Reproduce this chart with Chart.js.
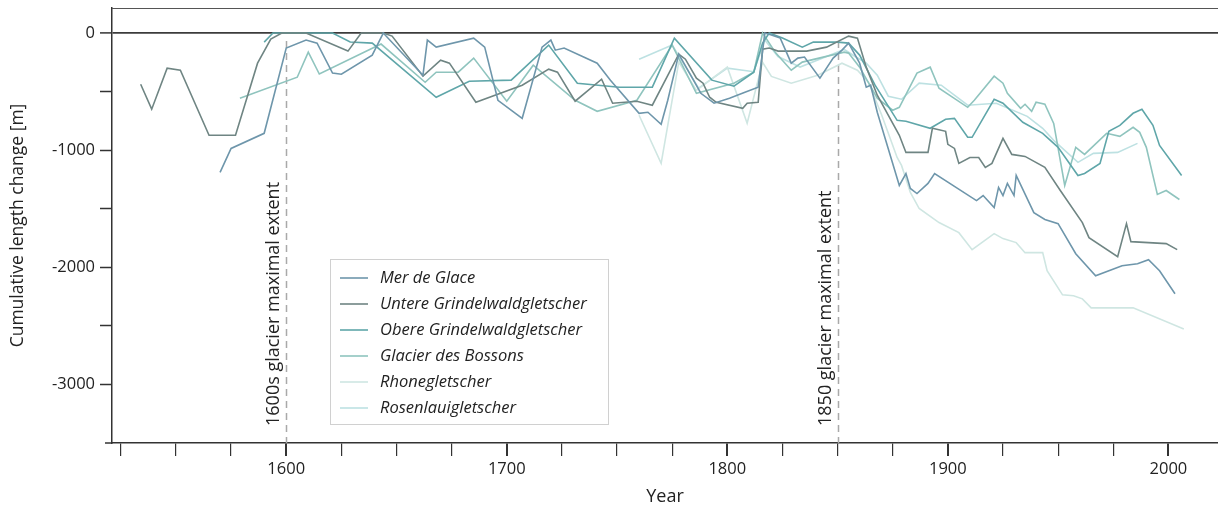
<!DOCTYPE html>
<html>
<head>
<meta charset="utf-8">
<script src="https://cdn.jsdelivr.net/npm/chart.js@4/dist/chart.umd.min.js"></script>
<style>
  body { margin: 0; background: #fff; }
  canvas { display: block; }
</style>
</head>
<body>
<canvas id="glacier-chart" width="1218" height="510"></canvas>
<script>
// Cumulative length change of Alpine glaciers, years and metres
var merYears = [1570, 1575, 1590, 1600, 1609, 1614, 1621, 1625, 1639, 1644, 1662, 1664, 1668, 1685, 1690, 1696, 1707, 1716, 1720, 1722, 1726, 1741, 1747, 1760, 1764, 1770, 1773, 1778, 1788, 1794, 1801, 1808, 1814, 1817, 1820, 1824, 1829, 1832, 1835, 1842, 1848, 1852, 1855, 1860, 1863, 1865, 1868, 1878, 1881, 1883, 1886, 1891, 1894, 1913, 1916, 1921, 1923, 1925, 1927, 1930, 1931, 1939, 1944, 1950, 1958, 1967, 1979, 1986, 1991, 1996, 2003]
var merChange = [-1190, -985, -856, -128, -60, -86, -342, -351, -188, 0, -360, -60, -120, -43, -120, -574, -728, -120, -60, -146, -128, -257, -402, -685, -676, -779, -574, -180, -514, -599, -556, -505, -462, 0, -17, -43, -257, -214, -205, -385, -214, -146, -86, -257, -462, -445, -676, -1301, -1199, -1327, -1370, -1284, -1199, -1430, -1387, -1490, -1318, -1387, -1284, -1387, -1216, -1533, -1592, -1627, -1884, -2072, -1986, -1969, -1935, -2029, -2226]

var untereYears = [1534, 1539, 1546, 1552, 1565, 1577, 1587, 1593, 1598, 1609, 1628, 1634, 1644, 1648, 1662, 1670, 1674, 1686, 1707, 1719, 1723, 1731, 1743, 1748, 1759, 1766, 1778, 1781, 1786, 1789, 1792, 1795, 1807, 1809, 1814, 1816, 1819, 1823, 1836, 1845, 1855, 1859, 1863, 1868, 1878, 1881, 1891, 1893, 1899, 1900, 1903, 1905, 1910, 1914, 1917, 1920, 1925, 1929, 1935, 1944, 1951, 1961, 1964, 1977, 1981, 1983, 1999, 2004]
var untereChange = [-437, -650, -300, -317, -873, -873, -257, -51, 0, 0, -154, 0, 0, -26, -368, -231, -257, -590, -445, -308, -334, -582, -394, -599, -582, -616, -180, -223, -385, -428, -548, -591, -642, -599, -591, -137, -128, -154, -154, -120, -26, -43, -291, -531, -873, -1019, -1019, -813, -839, -950, -985, -1113, -1062, -1062, -1147, -1113, -899, -1036, -1053, -1147, -1344, -1618, -1747, -1909, -1627, -1781, -1798, -1849]

var obereYears = [1590, 1594, 1621, 1629, 1639, 1668, 1683, 1702, 1719, 1732, 1751, 1766, 1776, 1793, 1803, 1812, 1816, 1819, 1825, 1834, 1839, 1850, 1855, 1860, 1867, 1877, 1881, 1892, 1899, 1903, 1909, 1911, 1921, 1925, 1934, 1943, 1950, 1959, 1962, 1969, 1973, 1978, 1984, 1988, 1993, 1996, 2006]
var obereChange = [-77, 0, 0, -77, -86, -548, -411, -402, -103, -428, -462, -462, -43, -402, -454, -334, -86, 0, -43, -120, -77, -77, -86, -188, -445, -745, -753, -813, -736, -728, -890, -890, -565, -599, -762, -856, -976, -1216, -1199, -1113, -839, -788, -685, -651, -788, -959, -1216]

var bossonsYears = [1579, 1605, 1610, 1615, 1643, 1663, 1668, 1678, 1685, 1700, 1712, 1731, 1741, 1759, 1775, 1786, 1803, 1812, 1816, 1822, 1829, 1834, 1853, 1855, 1860, 1868, 1875, 1878, 1886, 1892, 1896, 1909, 1912, 1921, 1925, 1927, 1933, 1935, 1938, 1940, 1944, 1948, 1953, 1958, 1962, 1972, 1978, 1984, 1987, 1990, 1995, 1999, 2005]
var bossonsChange = [-556, -377, -163, -350, -94, -420, -334, -334, -214, -582, -274, -574, -668, -574, -103, -514, -428, -334, 0, -171, -317, -248, -163, -171, -291, -556, -659, -634, -342, -291, -471, -634, -574, -368, -428, -514, -642, -608, -668, -591, -608, -771, -1301, -976, -1036, -856, -882, -805, -848, -976, -1378, -1344, -1421]

var rhoneYears = [1760, 1770, 1778, 1786, 1800, 1809, 1816, 1820, 1829, 1841, 1852, 1859, 1864, 1870, 1877, 1879, 1883, 1887, 1896, 1905, 1911, 1921, 1925, 1931, 1935, 1943, 1945, 1952, 1957, 1961, 1965, 1984, 2007]
var rhoneChange = [-702, -1113, -248, -490, -291, -770, -250, -370, -428, -360, -257, -317, -420, -700, -1062, -1130, -1361, -1498, -1618, -1704, -1849, -1712, -1755, -1789, -1875, -1875, -2029, -2235, -2243, -2269, -2346, -2346, -2526]

var rosenlauiYears = [1760, 1775, 1787, 1800, 1812, 1817, 1823, 1833, 1845, 1853, 1858, 1863, 1868, 1873, 1879, 1887, 1897, 1909, 1922, 1936, 1943, 1948, 1959, 1966, 1977, 1986]
var rosenlauiChange = [-223, -103, -470, -300, -330, -60, -200, -290, -200, -140, -200, -257, -360, -539, -565, -428, -445, -616, -599, -711, -813, -916, -1104, -1027, -1019, -942]

var glacierNames = ["Mer de Glace", "Untere Grindelwaldgletscher", "Obere Grindelwaldgletscher", "Glacier des Bossons", "Rhonegletscher", "Rosenlauigletscher"]
var glacierColors = ["#6e96ab", "#6f8583", "#5fa6a9", "#8fc4be", "#cfe6e2", "#bde1e2"]

var xTickValues = [1525, 1550, 1575, 1600, 1625, 1650, 1675, 1700, 1725, 1750, 1775, 1800, 1825, 1850, 1875, 1900, 1925, 1950, 1975, 2000]
var yTickValues = [-3000, -2500, -2000, -1500, -1000, -500, 0]

var markerYears = [1600, 1850]
var markerLabels = ["1600s glacier maximal extent", "1850 glacier maximal extent"]

var fontFamily = "'Open Sans', 'Segoe UI', sans-serif"
var textColor = "#222"

function toPoints(years, values) {
    return years.map(function (year, i) {
        return { x: year, y: values[i] }
    })
}

var seriesYears = [merYears, untereYears, obereYears, bossonsYears, rhoneYears, rosenlauiYears]
var seriesChange = [merChange, untereChange, obereChange, bossonsChange, rhoneChange, rosenlauiChange]

var datasets = glacierNames.map(function (name, i) {
    return {
        label: name,
        data: toPoints(seriesYears[i], seriesChange[i]),
        borderColor: glacierColors[i],
        borderWidth: 1.6,
        pointRadius: 0,
        tension: 0,
        fill: false
    }
})

// dashed lines for the two maximal extents, with rotated captions
var markerPlugin = {
    id: "markers",
    beforeDatasetsDraw: function (chart) {
        var ctx = chart.ctx
        var xs = chart.scales.x
        var ys = chart.scales.y
        var area = chart.chartArea
        ctx.save()
        markerYears.forEach(function (year, i) {
            var px = Math.round(xs.getPixelForValue(year)) + 0.5
            ctx.strokeStyle = "#a9a9a9"
            ctx.lineWidth = 1.5
            ctx.setLineDash([7, 5])
            ctx.beginPath()
            ctx.moveTo(px, ys.getPixelForValue(0) + 8)
            ctx.lineTo(px, area.bottom)
            ctx.stroke()
            ctx.setLineDash([])

            ctx.save()
            ctx.translate(px - 8, area.bottom - 17)
            ctx.rotate(-Math.PI / 2)
            ctx.fillStyle = textColor
            ctx.font = "18px " + fontFamily
            ctx.textAlign = "left"
            ctx.textBaseline = "alphabetic"
            ctx.fillText(markerLabels[i], 0, 0)
            ctx.restore()
        })
        ctx.restore()
    }
}

// spines and the boxed legend inside the plot
var framePlugin = {
    id: "frame",
    afterDraw: function (chart) {
        var ctx = chart.ctx
        var area = chart.chartArea
        ctx.save()
        ctx.strokeStyle = "#555"
        ctx.lineWidth = 1.2
        ctx.beginPath()
        ctx.moveTo(area.left, area.top + 0.5)
        ctx.lineTo(area.right, area.top + 0.5)
        ctx.stroke()

        ctx.strokeStyle = "#333"
        ctx.lineWidth = 1.5
        ctx.beginPath()
        ctx.moveTo(area.left - 7, area.bottom)
        ctx.lineTo(area.left, area.bottom)
        ctx.stroke()

        // legend
        var boxX = 330.5, boxY = 259.5, boxW = 278, boxH = 165
        ctx.fillStyle = "#fff"
        ctx.fillRect(boxX, boxY, boxW, boxH)
        ctx.strokeStyle = "#d0d0d0"
        ctx.lineWidth = 1
        ctx.strokeRect(boxX, boxY, boxW, boxH)
        ctx.font = "italic 16.5px " + fontFamily
        ctx.textBaseline = "middle"
        ctx.textAlign = "left"
        chart.data.datasets.forEach(function (ds, i) {
            var rowY = 278 + i * 26
            ctx.strokeStyle = ds.borderColor
            ctx.lineWidth = 1.6
            ctx.beginPath()
            ctx.moveTo(340, rowY)
            ctx.lineTo(368, rowY)
            ctx.stroke()
            ctx.fillStyle = textColor
            ctx.fillText(ds.label, 380, rowY)
        })
        ctx.restore()
    }
}

function createChart() {
    new Chart("glacier-chart", {
        type: "line",
        data: { datasets: datasets },
        options: {
            responsive: false,
            animation: false,
            devicePixelRatio: 1,
            layout: { padding: { top: 8, right: 0, left: 0, bottom: 0 } },
            plugins: {
                legend: { display: false },
                tooltip: { enabled: false }
            },
            scales: {
                x: {
                    type: "linear",
                    min: 1521,
                    max: 2022.5,
                    afterFit: function (scale) {
                        scale.height = 67
                        scale.paddingLeft = 0
                        scale.paddingRight = 0
                    },
                    afterBuildTicks: function (scale) {
                        scale.ticks = xTickValues.map(function (v) { return { value: v } })
                    },
                    ticks: {
                        autoSkip: false,
                        maxRotation: 0,
                        padding: 3,
                        color: textColor,
                        font: { family: fontFamily, size: 16.5, weight: 400 },
                        callback: function (v) { return v % 100 === 0 ? String(v) : "" }
                    },
                    grid: {
                        drawOnChartArea: false,
                        drawTicks: true,
                        tickLength: 13,
                        tickColor: "#333",
                        lineWidth: function (c) { return c.tick && c.tick.value % 100 === 0 ? 2 : 1.2 }
                    },
                    border: { display: true, color: "#333", width: 1.5 },
                    title: {
                        display: true,
                        text: "Year",
                        color: textColor,
                        font: { family: fontFamily, size: 18, weight: 400 },
                        padding: { top: 0, bottom: 2 }
                    }
                },
                y: {
                    type: "linear",
                    min: -3500,
                    max: 214,
                    afterFit: function (scale) {
                        scale.width = 112
                        scale.paddingTop = 0
                        scale.paddingBottom = 0
                    },
                    afterBuildTicks: function (scale) {
                        scale.ticks = yTickValues.map(function (v) { return { value: v } })
                    },
                    ticks: {
                        padding: 5,
                        color: textColor,
                        font: { family: fontFamily, size: 16.5, weight: 400 },
                        callback: function (v) { return v % 1000 === 0 ? String(v) : "" }
                    },
                    grid: {
                        drawOnChartArea: true,
                        drawTicks: true,
                        tickLength: 12,
                        tickColor: "#333",
                        tickWidth: 1.5,
                        color: function (c) { return c.tick && c.tick.value === 0 ? "#3c3c3c" : "rgba(0,0,0,0)" },
                        lineWidth: function (c) { return c.tick && c.tick.value === 0 ? 1.8 : 1 }
                    },
                    border: { display: true, color: "#333", width: 1.5 },
                    title: {
                        display: true,
                        text: "Cumulative length change [m]",
                        color: textColor,
                        font: { family: fontFamily, size: 17.5, weight: 400 },
                        padding: { top: 8, bottom: 0 }
                    }
                }
            }
        },
        plugins: [markerPlugin, framePlugin]
    })
}

createChart()
</script>
</body>
</html>
